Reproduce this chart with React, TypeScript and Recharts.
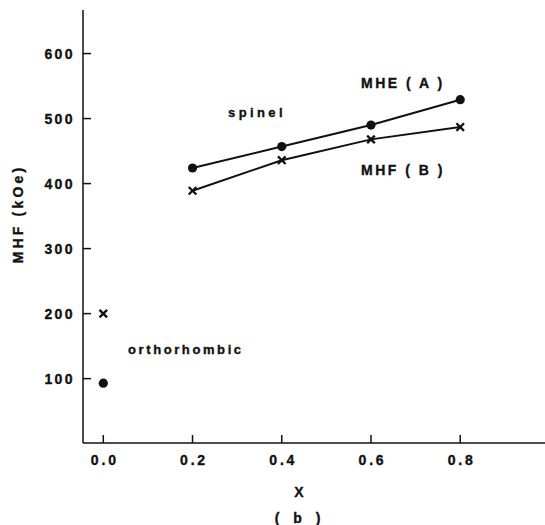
import React from "react";
import { ScatterChart, Scatter, XAxis, YAxis } from "recharts";

// composition x
const xTicks = [0, 0.2, 0.4, 0.6, 0.8];
const yTicks = [100, 200, 300, 400, 500, 600];

// spinel branch, MHF in kOe
const spinelA = [
  { x: 0.2, y: 424 },
  { x: 0.4, y: 457 },
  { x: 0.6, y: 490 },
  { x: 0.8, y: 529 },
];
const spinelB = [
  { x: 0.2, y: 389 },
  { x: 0.4, y: 436 },
  { x: 0.6, y: 468 },
  { x: 0.8, y: 487 },
];

// orthorhombic x = 0
const orthoA = [{ x: 0, y: 93 }];
const orthoB = [{ x: 0, y: 200 }];

const FONT = "'Liberation Sans', Arial, Helvetica, sans-serif";
const INK = "#111";

const Dot = (p: any) => <circle cx={p.cx} cy={p.cy} r={4.6} fill={INK} />;

const Cross = (p: any) => {
  const s = 3.8;
  return (
    <g stroke={INK} strokeWidth={2.3}>
      <line x1={p.cx - s} y1={p.cy - s} x2={p.cx + s} y2={p.cy + s} />
      <line x1={p.cx - s} y1={p.cy + s} x2={p.cx + s} y2={p.cy - s} />
    </g>
  );
};

// printed text is a little heavier than plain bold
const txt = {
  fontFamily: FONT,
  fontWeight: 700,
  fill: INK,
  stroke: INK,
  strokeWidth: 0.35,
} as const;

// ticks point into the plot, so draw them ourselves
const YTick = (p: any) => (
  <g>
    <line x1={p.x + 10} x2={p.x + 18} y1={p.y} y2={p.y} stroke={INK} strokeWidth={1.5} />
    <text
      x={p.x + 2}
      y={p.y}
      dy="0.36em"
      textAnchor="end"
      fontSize={14}
      letterSpacing={2.4}
      {...txt}
    >
      {p.payload.value}
    </text>
  </g>
);

const XTick = (p: any) => (
  <g>
    <line x1={p.x} x2={p.x} y1={p.y - 17} y2={p.y - 25} stroke={INK} strokeWidth={1.5} />
    <text
      x={p.x + 1.5}
      y={p.y}
      dy="0.36em"
      textAnchor="middle"
      fontSize={14}
      letterSpacing={2.8}
      {...txt}
    >
      {Number(p.payload.value).toFixed(1)}
    </text>
  </g>
);

export default function App() {
  return (
    <div style={{ position: "absolute", left: 0, top: 0, background: "#fff" }}>
      <ScatterChart width={545} height={525} margin={{ top: 10, right: 0, bottom: 0, left: 0 }}>
        <XAxis
          type="number"
          dataKey="x"
          domain={[-0.0455, 0.99]}
          allowDataOverflow
          ticks={xTicks}
          tick={<XTick />}
          tickLine={false}
          tickSize={0}
          tickMargin={17}
          height={82}
          axisLine={{ stroke: INK, strokeWidth: 1.5 }}
        />
        <YAxis
          type="number"
          dataKey="y"
          domain={[1, 667]}
          allowDataOverflow
          ticks={yTicks}
          tick={<YTick />}
          tickLine={false}
          tickSize={0}
          tickMargin={10}
          width={83}
          axisLine={{ stroke: INK, strokeWidth: 1.5 }}
        />
        <Scatter
          data={spinelA}
          line={{ stroke: INK, strokeWidth: 2 }}
          shape={<Dot />}
          isAnimationActive={false}
        />
        <Scatter
          data={spinelB}
          line={{ stroke: INK, strokeWidth: 2 }}
          shape={<Cross />}
          isAnimationActive={false}
        />
        <Scatter data={orthoA} shape={<Dot />} isAnimationActive={false} />
        <Scatter data={orthoB} shape={<Cross />} isAnimationActive={false} />

        <text x={361} y={83} dy="0.36em" fontSize={14} letterSpacing={2.5} {...txt}>
          MHE ( A )
        </text>
        <text x={361} y={170} dy="0.36em" fontSize={14} letterSpacing={2.5} {...txt}>
          MHF ( B )
        </text>
        <text x={228} y={113} dy="0.3em" fontSize={13} letterSpacing={3.4} {...txt}>
          spinel
        </text>
        <text x={128} y={349} dy="0.36em" fontSize={13} letterSpacing={2.6} {...txt}>
          orthorhombic
        </text>
        <text x={299} y={492} dy="0.36em" textAnchor="middle" fontSize={14} {...txt}>
          X
        </text>
        <text x={300} y={518} dy="0.36em" textAnchor="middle" fontSize={14} letterSpacing={5} {...txt}>
          ( b )
        </text>
        <text
          x={18}
          y={214}
          dy="0.36em"
          textAnchor="middle"
          transform="rotate(-90 18 214)"
          fontSize={14}
          letterSpacing={3.2}
          {...txt}
        >
          MHF (kOe)
        </text>
      </ScatterChart>
    </div>
  );
}
